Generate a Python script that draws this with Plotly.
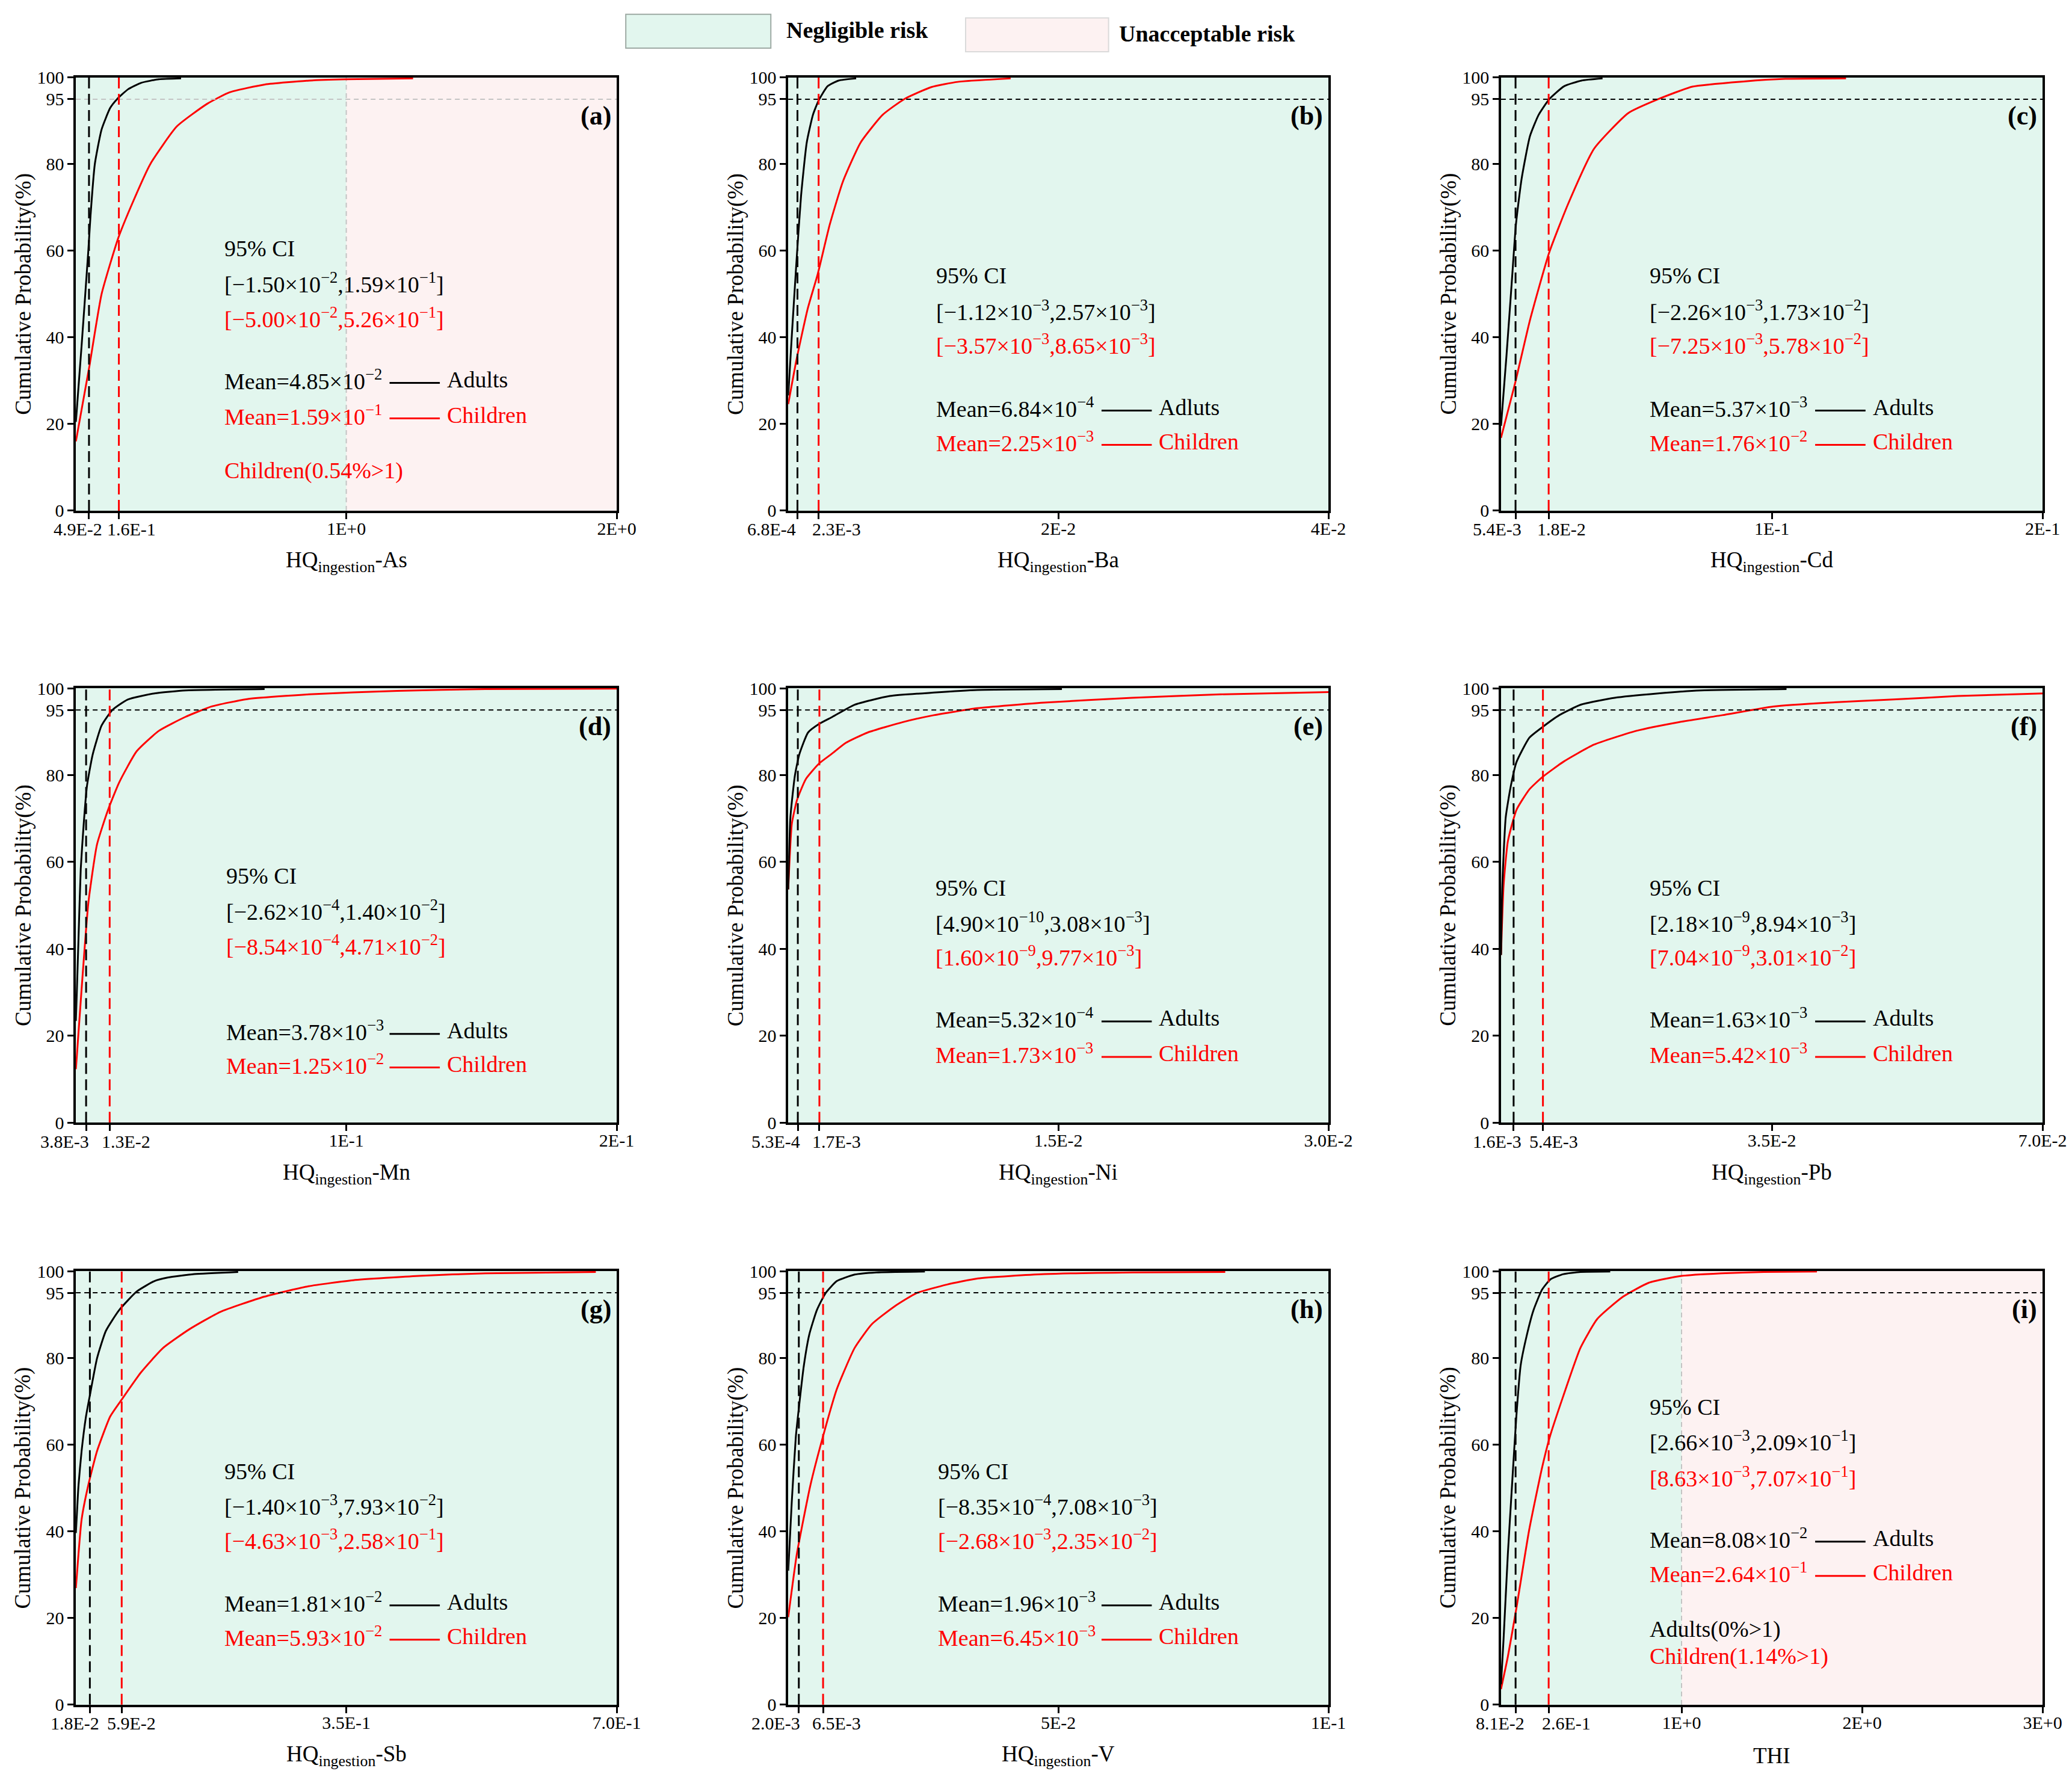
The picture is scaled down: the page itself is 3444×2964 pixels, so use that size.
import plotly.graph_objects as go

# Cumulative probability curves (x = HQ value, p = cumulative %)
as_x_adult = [0, 0.021, 0.046, 0.054, 0.070, 0.095, 0.127, 0.152, 0.193, 0.242, 0.307, 0.389]
as_p_adult = [20.5, 38, 60, 68, 80, 88, 93, 95, 97.3, 98.8, 99.6, 99.8]
as_x_child = [0, 0.049, 0.095, 0.157, 0.209, 0.275, 0.373, 0.487, 0.569, 0.699, 0.863, 1.0, 1.247]
as_p_child = [16, 33, 50, 63, 71, 80, 88.7, 94, 96.6, 98.4, 99.3, 99.6, 99.8]

ba_x_adult = [0, 0.00029, 0.00062, 0.00095, 0.00137, 0.00183, 0.00225, 0.00291, 0.00373, 0.00503]
ba_p_adult = [26.6, 41.7, 58, 72.7, 85, 91.4, 94.7, 98, 99.3, 99.8]
ba_x_child = [0, 0.00062, 0.00144, 0.00219, 0.00307, 0.00405, 0.00536, 0.00699, 0.00863, 0.0106, 0.01255, 0.01647]
ba_p_child = [24.6, 35, 46.6, 54.7, 66, 76, 85, 91.4, 95.1, 97.8, 99, 99.8]

cd_x_adult = [0, 0.00205, 0.0041, 0.0055, 0.0076, 0.0107, 0.0139, 0.0178, 0.0233, 0.0297, 0.0375]
cd_p_adult = [19.6, 36, 53.9, 66, 76.6, 86.5, 91.4, 95, 98, 99.3, 99.8]
cd_x_child = [0, 0.0052, 0.0107, 0.0178, 0.0249, 0.0344, 0.047, 0.058, 0.0707, 0.0896, 0.105, 0.1274]
cd_p_child = [16.8, 29.4, 44, 59.6, 71, 83.6, 91.8, 95, 97.9, 99.1, 99.7, 99.8]

mn_x_adult = [0, 0.00098, 0.0018, 0.0029, 0.0041, 0.0062, 0.0095, 0.0135, 0.0192, 0.029, 0.0405, 0.0698]
mn_p_adult = [23.4, 42.5, 58.4, 68.8, 77.5, 84.7, 91.4, 95, 97.4, 98.8, 99.5, 99.8]
mn_x_child = [0, 0.0021, 0.0046, 0.0078, 0.0119, 0.016, 0.0225, 0.0307, 0.0405, 0.0502, 0.0633, 0.0861, 0.1188, 0.1514, 0.2]
mn_p_child = [12.3, 30.6, 50.5, 64, 72, 78.3, 85.5, 90.2, 93.4, 95.8, 97.5, 98.6, 99.4, 99.8, 99.9]

ni_x_adult = [0, 0.00012, 0.00037, 0.00061, 0.0011, 0.00172, 0.00245, 0.00368, 0.00564, 0.00809, 0.0105, 0.0152]
ni_p_adult = [53.7, 70.3, 79.9, 84.7, 89.8, 91.8, 93.4, 96.2, 98.2, 99, 99.6, 99.8]
ni_x_child = [0, 0.0002, 0.00049, 0.00098, 0.00172, 0.00245, 0.00319, 0.00441, 0.00637, 0.00809, 0.0105, 0.0142, 0.0191, 0.024, 0.03]
ni_p_child = [53.7, 68.8, 74.3, 79.1, 82.7, 85, 87.4, 89.8, 92.2, 93.8, 95.4, 96.7, 97.8, 98.6, 99.1]

pb_x_adult = [0, 0.00017, 0.00061, 0.00127, 0.002, 0.00366, 0.00532, 0.00753, 0.0103, 0.0147, 0.0203, 0.0258, 0.0369]
pb_p_adult = [38.6, 54.5, 70.3, 77.5, 83, 88.6, 91, 93.8, 96.2, 97.8, 98.8, 99.5, 99.8]
pb_x_child = [0, 0.00033, 0.00089, 0.002, 0.00366, 0.00532, 0.00809, 0.012, 0.0175, 0.023, 0.0286, 0.0352, 0.0424, 0.0507, 0.059, 0.07]
pb_p_child = [38.6, 54.5, 64.8, 72, 76.7, 79.5, 83.1, 87, 90.2, 92.2, 93.8, 95.8, 96.7, 97.4, 98.2, 98.8]

sb_x_adult = [0, 0.0034, 0.0074, 0.0131, 0.0188, 0.0274, 0.0388, 0.056, 0.0788, 0.1017, 0.1188, 0.153, 0.21]
sb_p_adult = [39.6, 50.6, 58.5, 66.5, 72, 79.9, 86.2, 91, 95.3, 97.7, 98.5, 99.3, 99.8]
sb_x_child = [0, 0.0074, 0.016, 0.0274, 0.0445, 0.0594, 0.0845, 0.113, 0.147, 0.187, 0.244, 0.301, 0.359, 0.444, 0.53, 0.673]
sb_p_child = [26.9, 42.7, 50.6, 58.5, 66.5, 70.4, 76.7, 82.3, 86.6, 90.6, 94.1, 96.5, 97.9, 98.9, 99.5, 99.8]

v_x_adult = [0, 0.00065, 0.0014, 0.002, 0.0029, 0.0039, 0.0053, 0.0069, 0.009, 0.0123, 0.0163, 0.0253]
v_p_adult = [30.9, 46.7, 61.7, 68.8, 78.3, 85.4, 91, 94.9, 97.7, 99.2, 99.7, 99.9]
v_x_child = [0, 0.0016, 0.0041, 0.0064, 0.009, 0.0123, 0.0155, 0.0196, 0.0237, 0.0294, 0.0351, 0.0474, 0.0637, 0.0809]
v_p_child = [20.2, 34.8, 50.6, 61.7, 72.8, 82.3, 87.8, 91.8, 94.9, 96.9, 98.3, 99.3, 99.7, 99.8]

thi_x_adult = [0, 0.014, 0.038, 0.061, 0.085, 0.109, 0.144, 0.18, 0.227, 0.274, 0.345, 0.44, 0.605]
thi_p_adult = [4.7, 15, 34.8, 50.6, 66.5, 78.3, 85.4, 91, 95.7, 98.1, 99.3, 99.8, 99.9]
thi_x_child = [0, 0.038, 0.085, 0.156, 0.227, 0.27, 0.345, 0.44, 0.534, 0.676, 0.818, 1.0, 1.22, 1.456, 1.75]
thi_p_child = [3.6, 11.1, 22.2, 40.3, 54.6, 61.7, 71.2, 82.3, 89, 94.1, 97.3, 98.9, 99.5, 99.8, 99.9]

panel_labels = ['(a)', '(b)', '(c)', '(d)', '(e)', '(f)', '(g)', '(h)', '(i)']
x_titles = ['HQ<sub>ingestion</sub>-As', 'HQ<sub>ingestion</sub>-Ba', 'HQ<sub>ingestion</sub>-Cd',
            'HQ<sub>ingestion</sub>-Mn', 'HQ<sub>ingestion</sub>-Ni', 'HQ<sub>ingestion</sub>-Pb',
            'HQ<sub>ingestion</sub>-Sb', 'HQ<sub>ingestion</sub>-V', 'THI']
mean_adult = [4.85e-2, 6.84e-4, 5.37e-3, 3.78e-3, 5.32e-4, 1.63e-3, 1.81e-2, 1.96e-3, 8.08e-2]
mean_child = [1.59e-1, 2.25e-3, 1.76e-2, 1.25e-2, 1.73e-3, 5.42e-3, 5.93e-2, 6.45e-3, 2.64e-1]
mean_adult_label = ['4.9E-2', '6.8E-4', '5.4E-3', '3.8E-3', '5.3E-4', '1.6E-3', '1.8E-2', '2.0E-3', '8.1E-2']
mean_child_label = ['1.6E-1', '2.3E-3', '1.8E-2', '1.3E-2', '1.7E-3', '5.4E-3', '5.9E-2', '6.5E-3', '2.6E-1']
x_max = [2, 0.04, 0.2, 0.2, 0.03, 0.07, 0.7, 0.1, 3]
x_tickvals = [[1, 2], [0.02, 0.04], [0.1, 0.2], [0.1, 0.2], [0.015, 0.03], [0.035, 0.07],
              [0.35, 0.7], [0.05, 0.1], [1, 2, 3]]
x_ticktext = [['1E+0', '2E+0'], ['2E-2', '4E-2'], ['1E-1', '2E-1'], ['1E-1', '2E-1'],
              ['1.5E-2', '3.0E-2'], ['3.5E-2', '7.0E-2'], ['3.5E-1', '7.0E-1'], ['5E-2', '1E-1'],
              ['1E+0', '2E+0', '3E+0']]
y_tickvals = [0, 20, 40, 60, 80, 95, 100]
ci_adult = ['[−1.50×10<sup>−2</sup>,1.59×10<sup>−1</sup>]', '[−1.12×10<sup>−3</sup>,2.57×10<sup>−3</sup>]',
            '[−2.26×10<sup>−3</sup>,1.73×10<sup>−2</sup>]', '[−2.62×10<sup>−4</sup>,1.40×10<sup>−2</sup>]',
            '[4.90×10<sup>−10</sup>,3.08×10<sup>−3</sup>]', '[2.18×10<sup>−9</sup>,8.94×10<sup>−3</sup>]',
            '[−1.40×10<sup>−3</sup>,7.93×10<sup>−2</sup>]', '[−8.35×10<sup>−4</sup>,7.08×10<sup>−3</sup>]',
            '[2.66×10<sup>−3</sup>,2.09×10<sup>−1</sup>]']
ci_child = ['[−5.00×10<sup>−2</sup>,5.26×10<sup>−1</sup>]', '[−3.57×10<sup>−3</sup>,8.65×10<sup>−3</sup>]',
            '[−7.25×10<sup>−3</sup>,5.78×10<sup>−2</sup>]', '[−8.54×10<sup>−4</sup>,4.71×10<sup>−2</sup>]',
            '[1.60×10<sup>−9</sup>,9.77×10<sup>−3</sup>]', '[7.04×10<sup>−9</sup>,3.01×10<sup>−2</sup>]',
            '[−4.63×10<sup>−3</sup>,2.58×10<sup>−1</sup>]', '[−2.68×10<sup>−3</sup>,2.35×10<sup>−2</sup>]',
            '[8.63×10<sup>−3</sup>,7.07×10<sup>−1</sup>]']
mean_adult_text = ['4.85×10<sup>−2</sup>', '6.84×10<sup>−4</sup>', '5.37×10<sup>−3</sup>',
                   '3.78×10<sup>−3</sup>', '5.32×10<sup>−4</sup>', '1.63×10<sup>−3</sup>',
                   '1.81×10<sup>−2</sup>', '1.96×10<sup>−3</sup>', '8.08×10<sup>−2</sup>']
mean_child_text = ['1.59×10<sup>−1</sup>', '2.25×10<sup>−3</sup>', '1.76×10<sup>−2</sup>',
                   '1.25×10<sup>−2</sup>', '1.73×10<sup>−3</sup>', '5.42×10<sup>−3</sup>',
                   '5.93×10<sup>−2</sup>', '6.45×10<sup>−3</sup>', '2.64×10<sup>−1</sup>']
adult_names = ['Adults', 'Adluts', 'Adults', 'Adults', 'Adults', 'Adults', 'Adults', 'Adults', 'Adults']
exceed_notes = {0: [('Children(0.54%>1)', 'red')],
                8: [('Adults(0%>1)', 'black'), ('Children(1.14%>1)', 'red')]}
risk_limit = 1  # HQ threshold between negligible and unacceptable risk

curves_adult = [(as_x_adult, as_p_adult), (ba_x_adult, ba_p_adult), (cd_x_adult, cd_p_adult),
                (mn_x_adult, mn_p_adult), (ni_x_adult, ni_p_adult), (pb_x_adult, pb_p_adult),
                (sb_x_adult, sb_p_adult), (v_x_adult, v_p_adult), (thi_x_adult, thi_p_adult)]
curves_child = [(as_x_child, as_p_child), (ba_x_child, ba_p_child), (cd_x_child, cd_p_child),
                (mn_x_child, mn_p_child), (ni_x_child, ni_p_child), (pb_x_child, pb_p_child),
                (sb_x_child, sb_p_child), (v_x_child, v_p_child), (thi_x_child, thi_p_child)]

# layout settings (page body adds an 8px offset, compensated here)
FONT = 'Liberation Serif'
GREEN = '#E2F6EE'
PINK = '#FDF2F2'
col_dom = [[0.0343, 0.2953], [0.3781, 0.6388], [0.7221, 0.9835]]
row_dom = [[0.7163, 0.9592], [0.3731, 0.6167], [0.0466, 0.2898]]
# y positions (domain) of: CI title, CI adults, CI children, mean adults, mean children, notes
text_rows = [[0.605, 0.526, 0.446, 0.303, 0.221, 0.092],
             [0.543, 0.462, 0.384, 0.239, 0.160, 0],
             [0.543, 0.462, 0.384, 0.239, 0.160, 0],
             [0.568, 0.489, 0.409, 0.212, 0.135, 0],
             [0.541, 0.461, 0.384, 0.241, 0.159, 0],
             [0.541, 0.461, 0.384, 0.241, 0.159, 0],
             [0.538, 0.461, 0.381, 0.237, 0.158, 0],
             [0.538, 0.461, 0.381, 0.237, 0.158, 0],
             [0.687, 0.609, 0.526, 0.384, 0.305, 0.174]]
text_x = [0.272, 0.272, 0.272, 0.276, 0.271, 0.272, 0.272, 0.275, 0.272]
# domain x of the right edge of the adult mean tick label and left edge of the children one
mean_label_x = [(0.051, 0.055), (0.017, 0.042), (0.040, 0.064), (0.027, 0.046), (0.0245, 0.0425),
                (0.040, 0.050), (0.046, 0.056), (0.0245, 0.0425), (0.046, 0.073)]

fig = go.Figure()
shapes = []
annotations = []

for i in range(9):
    n = '' if i == 0 else str(i + 1)
    xa, ya = 'x' + n, 'y' + n
    xd, yd = xa + ' domain', ya + ' domain'
    r, c = divmod(i, 3)

    # pink zone above the risk threshold
    if x_max[i] > risk_limit:
        shapes.append(dict(type='rect', xref=xa, yref=yd, x0=risk_limit, x1=x_max[i], y0=0, y1=1,
                           fillcolor=PINK, line_width=0, layer='below'))
        shapes.append(dict(type='line', xref=xa, yref=yd, x0=risk_limit, x1=risk_limit, y0=0, y1=1,
                           line=dict(color='#C4C4C4', width=2, dash='8px,6px'), layer='below'))

    # 95% line
    shapes.append(dict(type='line', xref=xd, yref=ya, x0=0, x1=1, y0=95, y1=95,
                       line=dict(color='#C4C4C4' if i == 0 else 'black', width=2, dash='8px,6px')))
    # mean lines
    shapes.append(dict(type='line', xref=xa, yref=ya, x0=mean_adult[i], x1=mean_adult[i], y0=0, y1=100,
                       line=dict(color='black', width=3, dash='18px,9px')))
    shapes.append(dict(type='line', xref=xa, yref=ya, x0=mean_child[i], x1=mean_child[i], y0=0, y1=100,
                       line=dict(color='red', width=3, dash='18px,9px')))

    ax_, ap_ = curves_adult[i]
    cx_, cp_ = curves_child[i]
    fig.add_trace(go.Scatter(x=cx_, y=cp_, mode='lines',
                             line=dict(color='red', width=3, shape='spline', smoothing=0.5),
                             xaxis=xa, yaxis=ya, showlegend=False, name='Children'))
    fig.add_trace(go.Scatter(x=ax_, y=ap_, mode='lines',
                             line=dict(color='black', width=3, shape='spline', smoothing=0.5),
                             xaxis=xa, yaxis=ya, showlegend=False, name='Adults'))

    fig.update_layout(**{
        'xaxis' + n: dict(domain=col_dom[c], anchor=ya, range=[0, x_max[i]],
                          tickvals=[mean_adult[i], mean_child[i]] + x_tickvals[i],
                          ticktext=['', ''] + x_ticktext[i], tickangle=0,
                          automargin=False, ticklabelstandoff=-10,
                          showgrid=False, zeroline=False, showline=True, mirror=True,
                          linecolor='black', linewidth=3.5, ticks='outside', ticklen=10,
                          tickwidth=3, tickcolor='black',
                          tickfont=dict(family=FONT, size=30, color='black')),
        'yaxis' + n: dict(domain=row_dom[r], anchor=xa, range=[0, 100], tickvals=y_tickvals,
                          automargin=False,
                          showgrid=False, zeroline=False, showline=True, mirror=True,
                          linecolor='black', linewidth=3.5, ticks='outside', ticklen=10,
                          tickwidth=3, tickcolor='black',
                          tickfont=dict(family=FONT, size=30, color='black')),
    })

    # mean tick labels, nudged apart as in the original
    lx_a, lx_c = mean_label_x[i]
    annotations.append(dict(xref=xd, yref=yd, x=lx_a, y=-0.043, xanchor='right', yanchor='middle',
                            showarrow=False, text=mean_adult_label[i],
                            font=dict(family=FONT, size=30, color='black')))
    annotations.append(dict(xref=xd, yref=yd, x=lx_c, y=-0.043, xanchor='left', yanchor='middle',
                            showarrow=False, text=mean_child_label[i],
                            font=dict(family=FONT, size=30, color='black')))

    ty = text_rows[i]
    tx = text_x[i]
    base = dict(xref=xd, yref=yd, xanchor='left', yanchor='middle', showarrow=False)
    annotations += [
        dict(base, x=tx, y=ty[0], text='95% CI', font=dict(family=FONT, size=38, color='black')),
        dict(base, x=tx, y=ty[1], text=ci_adult[i], font=dict(family=FONT, size=38, color='black')),
        dict(base, x=tx, y=ty[2], text=ci_child[i], font=dict(family=FONT, size=38, color='red')),
        dict(base, x=tx, y=ty[3], text='Mean=' + mean_adult_text[i], font=dict(family=FONT, size=38, color='black')),
        dict(base, x=tx, y=ty[4], text='Mean=' + mean_child_text[i], font=dict(family=FONT, size=38, color='red')),
        dict(base, x=0.684, y=ty[3], text=adult_names[i], font=dict(family=FONT, size=38, color='black')),
        dict(base, x=0.684, y=ty[4], text='Children', font=dict(family=FONT, size=38, color='red')),
    ]
    shapes.append(dict(type='line', xref=xd, yref=yd, x0=0.58, x1=0.673, y0=ty[3] - 0.008, y1=ty[3] - 0.008,
                       line=dict(color='black', width=3)))
    shapes.append(dict(type='line', xref=xd, yref=yd, x0=0.58, x1=0.673, y0=ty[4] - 0.008, y1=ty[4] - 0.008,
                       line=dict(color='red', width=3)))
    for k, (note, colr) in enumerate(exceed_notes.get(i, [])):
        ny = ty[5] - k * 0.063
        annotations.append(dict(base, x=tx, y=ny, text=note, font=dict(family=FONT, size=38, color=colr)))

    # panel label
    annotations.append(dict(xref=xd, yref=yd, x=0.992, y=0.912, xanchor='right', yanchor='middle',
                            showarrow=False, text='<b>' + panel_labels[i] + '</b>',
                            font=dict(family=FONT, size=44, color='black')))
    # axis titles
    annotations.append(dict(xref=xd, yref=yd, x=0.5, y=-0.118, xanchor='center', yanchor='middle',
                            showarrow=False, text=x_titles[i], font=dict(family=FONT, size=37, color='black')))
    annotations.append(dict(xref=xd, yref=yd, x=-0.097, y=0.5, xanchor='center', yanchor='middle',
                            showarrow=False, textangle=-90, text='Cumulative Probability(%)',
                            font=dict(family=FONT, size=37, color='black')))

# risk legend at the top
shapes.append(dict(type='rect', xref='paper', yref='paper', x0=0.2997, x1=0.3697, y0=0.9757, y1=0.9947,
                   fillcolor=GREEN, line=dict(color='#9EAAA4', width=2)))
shapes.append(dict(type='rect', xref='paper', yref='paper', x0=0.4637, x1=0.5327, y0=0.9737, y1=0.9927,
                   fillcolor=PINK, line=dict(color='#DADADA', width=2)))
annotations.append(dict(xref='paper', yref='paper', x=0.3767, y=0.9857, xanchor='left', yanchor='middle',
                        showarrow=False, text='<b>Negligible risk</b>',
                        font=dict(family=FONT, size=38, color='black')))
annotations.append(dict(xref='paper', yref='paper', x=0.5372, y=0.9837, xanchor='left', yanchor='middle',
                        showarrow=False, text='<b>Unacceptable risk</b>',
                        font=dict(family=FONT, size=38, color='black')))

fig.update_layout(
    width=3444,
    height=2964,
    margin=dict(l=0, r=0, t=0, b=0, autoexpand=False),
    paper_bgcolor='white',
    plot_bgcolor=GREEN,
    shapes=shapes,
    annotations=annotations,
    font=dict(family=FONT, color='black'),
)

fig.write_html("out.html")
